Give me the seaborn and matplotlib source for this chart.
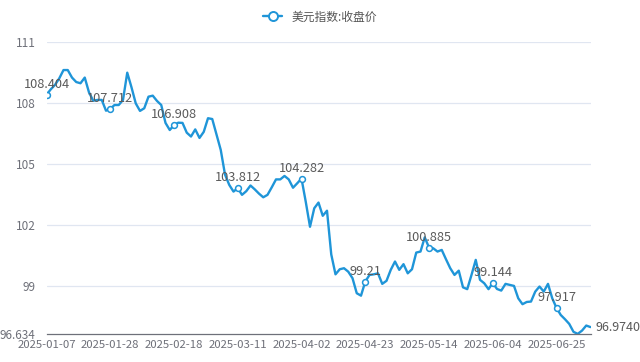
import matplotlib
matplotlib.use("Agg")
import matplotlib.pyplot as plt
import seaborn as sns
import pandas as pd
from matplotlib.lines import Line2D

# 美元指数:收盘价
close_values = [
    108.404, 108.67, 108.89, 109.21, 109.62, 109.62, 109.25, 109.03, 108.97, 109.25,
    108.52, 108.11, 108.15, 108.15, 107.62, 107.712, 107.90, 107.90, 108.15, 109.49,
    108.77, 107.98, 107.61, 107.74, 108.31, 108.36, 108.10, 107.90, 107.02, 106.67,
    106.908, 107.03, 107.02, 106.54, 106.35, 106.70, 106.28, 106.58, 107.25, 107.21,
    106.45, 105.69, 104.48, 103.97, 103.64, 103.812, 103.48, 103.66, 103.94, 103.75,
    103.54, 103.36, 103.48, 103.85, 104.24, 104.24, 104.41, 104.24, 103.83, 104.05,
    104.282, 103.14, 101.91, 102.82, 103.10, 102.45, 102.70, 100.55, 99.57, 99.82,
    99.87, 99.70, 99.38, 98.64, 98.52, 99.21, 99.54, 99.57, 99.62, 99.10,
    99.25, 99.79, 100.20, 99.79, 100.07, 99.62, 99.82, 100.64, 100.69, 101.39,
    100.885, 100.85, 100.69, 100.77, 100.31, 99.87, 99.54, 99.75, 98.93, 98.84,
    99.54, 100.28, 99.30, 99.13, 98.84, 99.144, 98.85, 98.77, 99.10, 99.05,
    99.00, 98.39, 98.10, 98.21, 98.23, 98.72, 98.97, 98.72, 99.10, 98.39,
    97.917, 97.57, 97.36, 97.13, 96.74, 96.64, 96.80, 97.05, 96.974,
]
tick_labels = ["2025-01-07", "2025-01-28", "2025-02-18", "2025-03-11", "2025-04-02",
               "2025-04-23", "2025-05-14", "2025-06-04", "2025-06-25"]
y_ticks = [96.634, 99, 102, 105, 108, 111]
y_tick_labels = ["96.634", "99", "102", "105", "108", "111"]

df = pd.DataFrame({"idx": range(len(close_values)), "close": close_values})

sns.set_theme(style="white")
plt.rcParams["font.family"] = ["Noto Sans CJK SC", "DejaVu Sans"]

line_color = "#1f95d8"
text_gray = "#6e7079"

fig = plt.figure(figsize=(6.4, 3.62), dpi=100)
ax = fig.add_axes([46.5 / 640, (362 - 334) / 362, (590.5 - 46.5) / 640, (334 - 42) / 362])

sns.lineplot(data=df, x="idx", y="close", ax=ax, color=line_color, linewidth=1.7,
             marker="o", markevery=15, markersize=4.2, markerfacecolor="white",
             markeredgecolor=line_color, markeredgewidth=1.1)

ax.set_xlim(0, len(close_values) - 1)
ax.set_ylim(96.634, 111)

# grid
for v in y_ticks[1:]:
    ax.axhline(v, color="#e0e6f1", linewidth=0.9, zorder=0)

ax.set_yticks(y_ticks)
ax.set_yticklabels(y_tick_labels)
xt = list(range(0, len(close_values), 15))
ax.set_xticks(xt + [len(close_values) - 1])
ax.set_xticklabels(tick_labels + [""])
ax.tick_params(axis="y", length=0, pad=8, labelsize=8.5, labelcolor=text_gray)
ax.tick_params(axis="x", length=3.5, width=0.8, color=text_gray, pad=1,
               labelsize=8.2, labelcolor=text_gray, direction="out")
ax.set_xlabel("")
ax.set_ylabel("")
for s in ["top", "right", "left"]:
    ax.spines[s].set_visible(False)
ax.spines["bottom"].set_color(text_gray)
ax.spines["bottom"].set_linewidth(0.9)

# data labels every 15 points, plus last value
for i in xt:
    ax.annotate(f"{close_values[i]:g}", (i, close_values[i]), xytext=(0, 4),
                textcoords="offset pixels", ha="center", va="bottom",
                fontsize=9.2, color="#5a5a5a")
last = len(close_values) - 1
ax.annotate("96.9740", (last, close_values[last]), xytext=(5, 0),
            textcoords="offset pixels", ha="left", va="center",
            fontsize=9, color="#5a5a5a", annotation_clip=False)

handle = Line2D([], [], color=line_color, linewidth=1.7, marker="o", markersize=6.5,
                markerfacecolor="white", markeredgecolor=line_color, markeredgewidth=1.4)
fig.legend([handle], ["美元指数:收盘价"], loc="upper center", bbox_to_anchor=(0.5, 1.0),
           frameon=False, fontsize=8.5, handlelength=1.6, labelcolor="#555555")

fig.savefig("out.png", dpi=100)
